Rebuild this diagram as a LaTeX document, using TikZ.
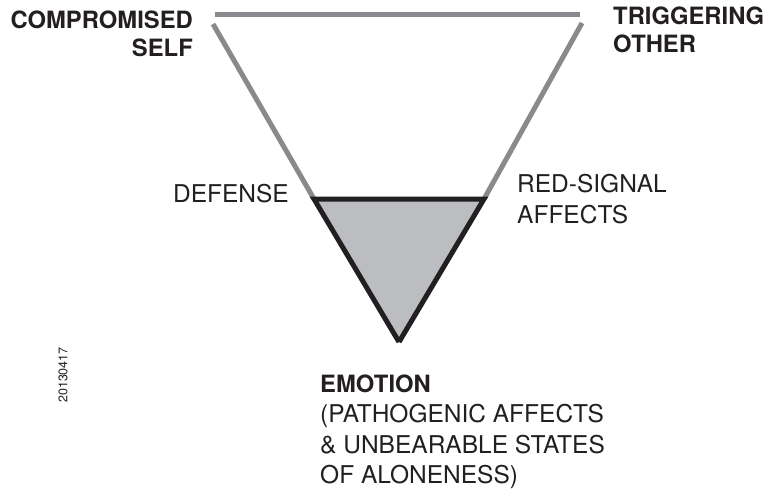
\documentclass[tikz,border=0pt]{standalone}
\usepackage{fontspec}
\setmainfont{TeX Gyre Heros}
\usetikzlibrary{positioning}
\definecolor{OuterGray}{RGB}{137,138,141}
\definecolor{InnerFill}{RGB}{188,189,192}
\definecolor{InkBlack}{RGB}{35,31,32}

\begin{document}
\begin{tikzpicture} [
    x=1pt, y=-1pt,
    outer/.style = {draw=OuterGray, line width=5pt},
    inner/.style = {draw=InkBlack, line width=5pt, fill=InnerFill, line join=miter},
    B/.style = {font=\fontsize{23.8}{28}\selectfont\bfseries, text=InkBlack, inner sep=0pt, align=left},
    L/.style = {font=\fontsize{24.5}{32}\selectfont, text=InkBlack, inner sep=0pt, align=left}
    ]
  \useasboundingbox (0,0) rectangle (765,489);

  %%% CORNERS %%%
  \coordinate (topleft)  at (215,15);
  \coordinate (topright) at (580,15);
  \coordinate (sideleft)  at (213,24);
  \coordinate (sideright) at (582,23);
  \coordinate (defense)  at (314,199);
  \coordinate (signal)   at (484,199);
  \coordinate (apex)     at (399,342);

  %%% OUTER TRIANGLE %%%
  \draw[outer] (topleft) -- (topright);
  \draw[outer] (sideleft) -- (defense);
  \draw[outer] (sideright) -- (signal);

  %%% INNER TRIANGLE %%%
  \filldraw[inner] (apex) -- (defense) -- (signal) -- (apex);

  %%% LABELS %%%
  % multi-line nodes sit on the baseline of their last line
  \node[B, align=right, anchor=base east] (self)  at (193,57) {COMPROMISED\\SELF};
  \node[B, anchor=base west] (other) at (613,53) {TRIGGERING\\OTHER};
  \node[L, anchor=base east] (defenselabel) at (289,203) {DEFENSE};
  \node[L, font=\fontsize{24.5}{31}\selectfont, anchor=base west] (signallabel)  at (517,223) {RED-SIGNAL\\AFFECTS};
  \node[B, anchor=base west] (emotion) at (320,392) {EMOTION};
  \node[L, font=\fontsize{24.5}{30.5}\selectfont, anchor=base west] (affects) at (320,483.5) {(PATHOGENIC AFFECTS\\\& UNBEARABLE STATES\\OF ALONENESS)};

  % date stamp
  \node[font=\fontsize{12.5}{14}\selectfont, text=InkBlack, rotate=90, inner sep=0pt] (date) at (63,375) {20130417};

\end{tikzpicture}
\end{document}
